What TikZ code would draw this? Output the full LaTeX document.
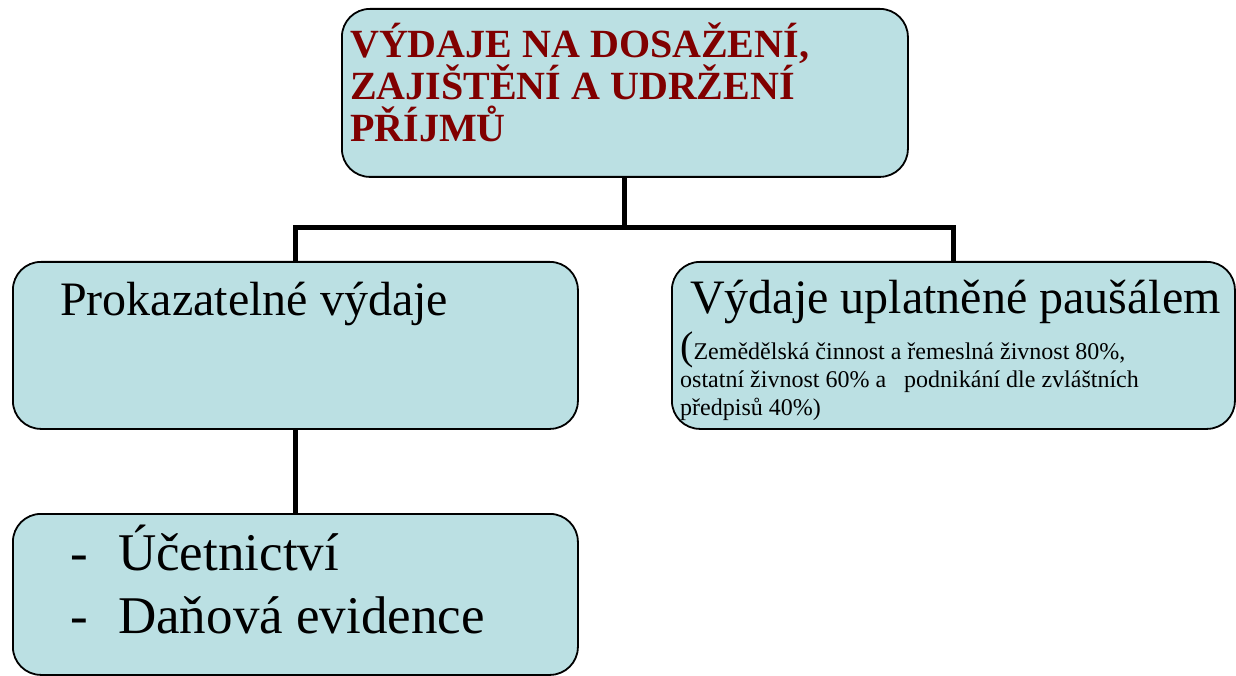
\documentclass[tikz,border=0pt]{standalone}
\usepackage{fontspec}
\setmainfont{Liberation Serif}
\definecolor{boxfill}{RGB}{187,224,227}
\definecolor{titlered}{RGB}{128,0,0}
\begin{document}
\begin{tikzpicture}[x=1pt,y=-1pt,
  box/.style={draw=black,line width=1.8pt,fill=boxfill,rounded corners=28pt,
    anchor=north west,inner sep=0pt},
  conn/.style={line width=5pt,black},
  txt/.style={inner sep=0pt,anchor=base west,align=left}]
\useasboundingbox (0,0) rectangle (1236,676);
\node[box,minimum width=566pt,minimum height=168pt] (top) at (341,8) {};
\node[box,minimum width=565pt,minimum height=167pt] (left) at (12,261) {};
\node[box,minimum width=563pt,minimum height=167pt] (right) at (671,261) {};
\node[box,minimum width=565pt,minimum height=161pt] (bottom) at (12,513) {};
\coordinate (j) at (top.south |- 0,228);
\draw[conn] (top.south) -- (j);
\draw[conn] (left.north) |- (j) -| (right.north);
\draw[conn] (left.south) -- (bottom.north);
\node[txt,text=titlered,font=\fontsize{40}{42}\selectfont\bfseries] (t1) at (350,142) {VÝDAJE NA DOSAŽENÍ,\\ZAJIŠTĚNÍ A UDRŽENÍ\\PŘÍJMŮ};
\node[txt,font=\fontsize{48}{52}\selectfont] (t2) at (60,315) {Prokazatelné výdaje};
\node[txt,font=\fontsize{48}{52}\selectfont] (t3) at (690,313) {Výdaje uplatněné paušálem};
\node[txt,font=\fontsize{24}{28}\selectfont] (t4) at (680,415) {{\fontsize{40}{40}\selectfont(}Zemědělská činnost a řemeslná živnost 80\%,\\ostatní živnost 60\% a\ \ \ podnikání dle zvláštních\\předpisů 40\%)};
\node[txt,font=\fontsize{53}{63}\selectfont] (t5) at (70,633) {-\\-};
\node[txt,font=\fontsize{53}{63}\selectfont] (t6) at (118,633) {Účetnictví\\Daňová evidence};
\end{tikzpicture}
\end{document}
